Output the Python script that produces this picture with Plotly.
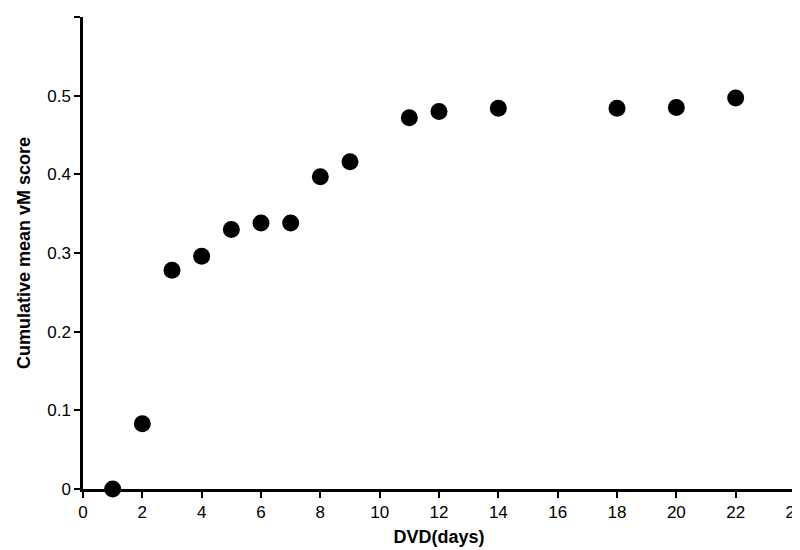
import plotly.graph_objects as go

days = [1, 2, 3, 4, 5, 6, 7, 8, 9, 11, 12, 14, 18, 20, 22]
scores = [0.0, 0.083, 0.278, 0.296, 0.330, 0.338, 0.338, 0.397, 0.416, 0.472, 0.480, 0.484, 0.484, 0.485, 0.497]

fig = go.Figure(go.Scatter(x=days, y=scores, mode="markers",
                           marker=dict(color="black", size=17), cliponaxis=False))
ax = dict(showgrid=False, zeroline=False, showline=True, linecolor="black", linewidth=2.5,
          ticks="outside", ticklen=6, tickwidth=2, tickcolor="black", automargin=False,
          tickfont=dict(size=17, color="black"))
fig.update_layout(
    width=800, height=550, plot_bgcolor="white", paper_bgcolor="white",
    margin=dict(l=75, r=13, t=9, b=69), showlegend=False,
    font=dict(family="Liberation Sans, Arial, sans-serif", color="black"),
    xaxis=dict(range=[0, 24], dtick=2, title=dict(text="<b>DVD(days)</b>", font=dict(size=18), standoff=10), **ax),
    yaxis=dict(range=[0, 0.6], dtick=0.1, tickformat="~g", title=dict(text="<b>Cumulative mean vM score</b>", font=dict(size=18), standoff=12), **ax),
)
fig.write_html("out.html")
